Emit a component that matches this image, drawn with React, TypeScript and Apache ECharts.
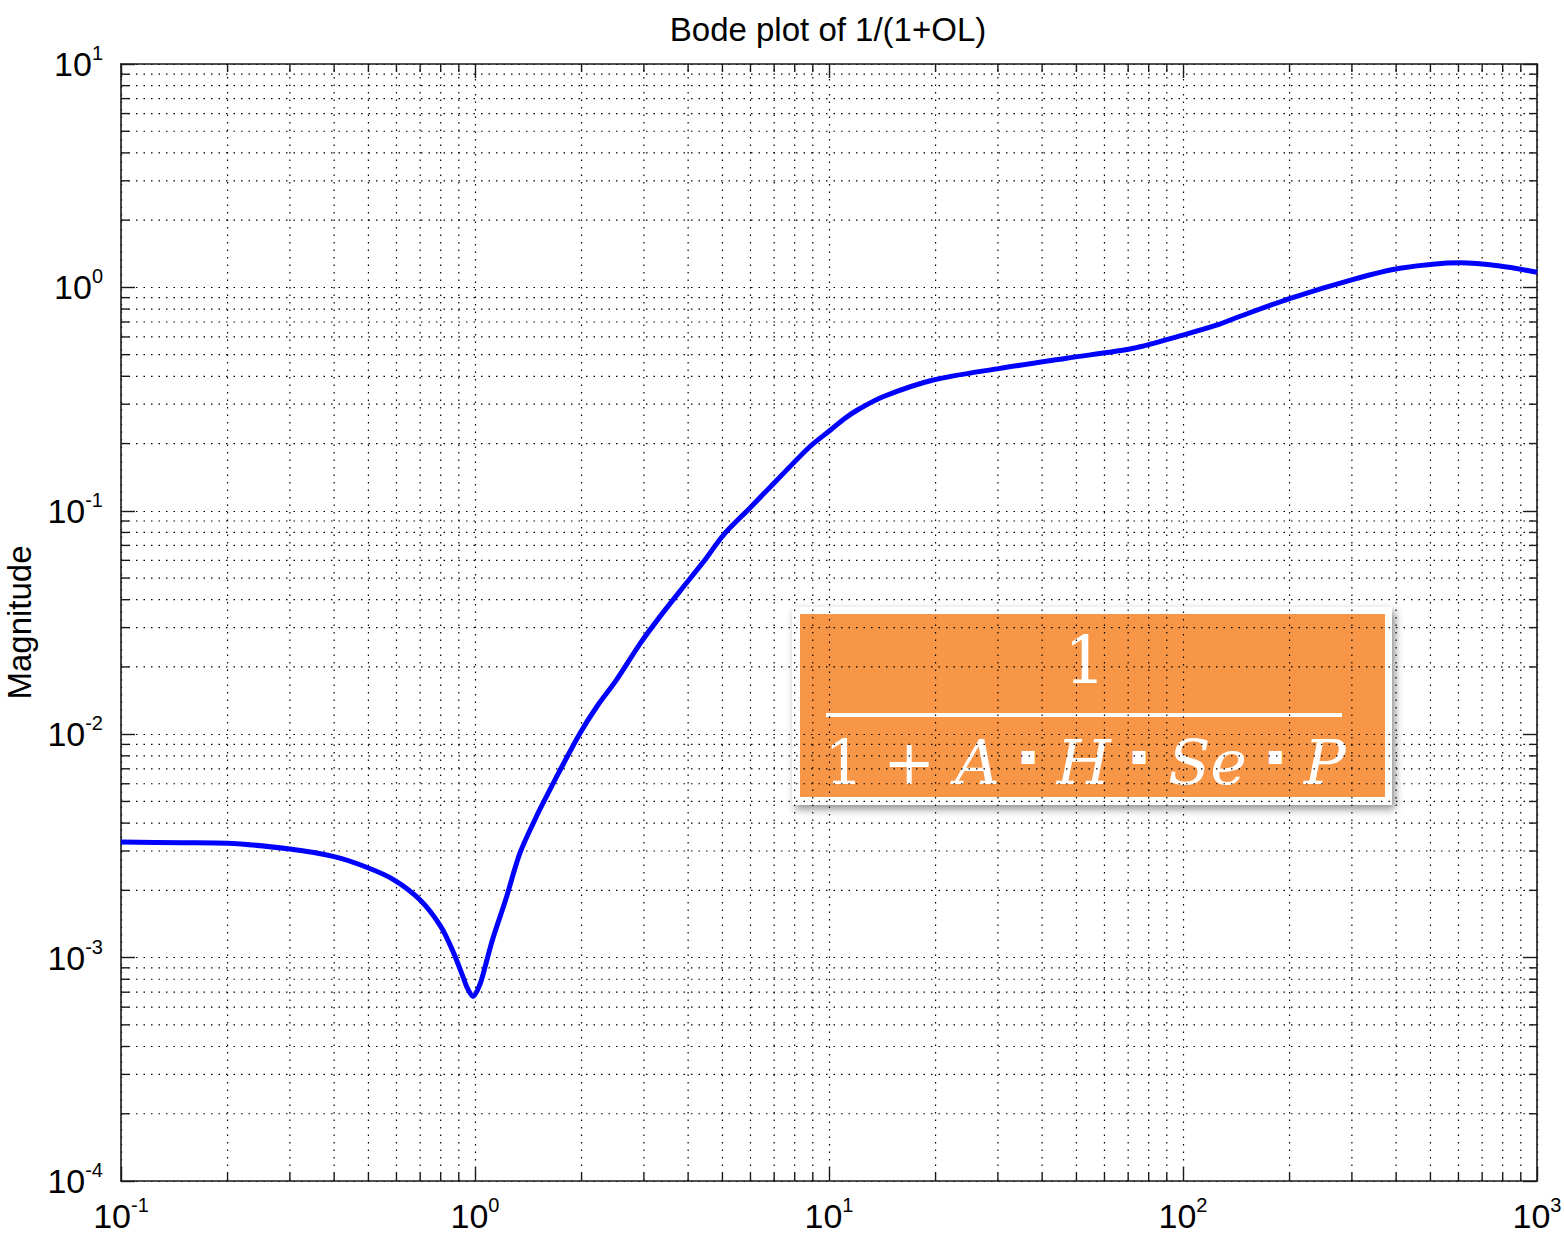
import React, { useEffect, useRef } from "react";
import * as echarts from "echarts";

// ---- data ----
const freq = [
  0.1, 0.15, 0.2, 0.3, 0.4, 0.49, 0.59, 0.7, 0.8, 0.87, 0.925, 0.948, 0.987, 1.033, 1.07,
  1.12, 1.22, 1.34, 1.49, 1.6, 1.72, 1.98, 2.21, 2.51, 2.93, 3.33, 3.88, 4.46, 5.03,
  5.98, 7.12, 8.84, 10.1, 11.0, 12.0, 14.2, 19.7, 30.4, 46.9, 72.4, 100, 125, 139,
  201, 303, 410, 606, 786, 1000,
];
const magnitude = [
  3.29e-3, 3.27e-3, 3.25e-3, 3.06e-3, 2.83e-3, 2.55e-3, 2.23e-3, 1.81e-3, 1.38e-3,
  1.05e-3, 8.2e-4, 7.4e-4, 6.7e-4, 7.6e-4, 9.2e-4, 1.2e-3, 1.81e-3, 2.94e-3, 4.27e-3,
  5.35e-3, 6.68e-3, 1.01e-2, 1.33e-2, 1.75e-2, 2.55e-2, 3.36e-2, 4.57e-2, 6.02e-2,
  7.79e-2, 0.103, 0.137, 0.194, 0.23, 0.257, 0.282, 0.324, 0.385, 0.434, 0.482, 0.534,
  0.612, 0.679, 0.724, 0.894, 1.087, 1.218, 1.29, 1.247, 1.169,
];

const xMin = 0.1;
const xMax = 1000;
const yMin = 1e-4;
const yMax = 10;
const xDecades = [0.1, 1, 10, 100];
const yDecades = [1e-4, 1e-3, 1e-2, 1e-1, 1];
const minorMultipliers = [2, 3, 4, 5, 6, 7, 8, 9];

const titleText = "Bode plot of 1/(1+OL)";
const yName = "Magnitude";

const xMinorTicks: number[] = [];
xDecades.forEach((d) => minorMultipliers.forEach((m) => xMinorTicks.push(d * m)));
const yMinorTicks: number[] = [];
yDecades.forEach((d) => minorMultipliers.forEach((m) => yMinorTicks.push(d * m)));

const FONT = "'Liberation Sans', Arial, sans-serif";
const MATH_FONT = "'DejaVu Serif', 'Liberation Serif', serif";
const MAJOR_LEN = 14;
const MINOR_LEN = 8;
const gridDash = [1.5, 6];

const supFormatter = (val: number) => {
  const e = Math.round(Math.log10(val));
  return `{b|10}{s|${e}}`;
};
const labelRich = {
  b: { fontSize: 34, fontFamily: FONT, color: "#000" },
  s: { fontSize: 20, fontFamily: FONT, color: "#000", padding: [0, 0, 22, 0] },
};

export default function App() {
  const ref = useRef<HTMLDivElement>(null);
  useEffect(() => {
    document.body.style.margin = "0";
    const chart = echarts.init(ref.current!, undefined, { renderer: "svg" });
    const axisLine = { show: true, onZero: false, lineStyle: { color: "#1a1a1a", width: 1.6 } };
    const splitLine = { show: true, lineStyle: { color: "#000", width: 1.2, type: gridDash } };
    const tickStyle = { stroke: "#1a1a1a", lineWidth: 1.4 };
    const dotStyle = { stroke: "#000", lineWidth: 1.2, lineDash: gridDash, fill: null };
    const majorTick = { show: true, inside: true, length: MAJOR_LEN, lineStyle: { color: "#1a1a1a", width: 1.4 } };

    chart.setOption({
      animation: false,
      backgroundColor: "#fff",
      grid: { left: 121, right: 27, top: 64, bottom: 55, containLabel: false, outerBoundsMode: "none" },
      xAxis: [
        {
          type: "log",
          logBase: 10,
          min: xMin,
          max: xMax,
          splitNumber: 4,
          position: "bottom",
          axisLine,
          axisTick: majorTick,
          axisLabel: { formatter: supFormatter, rich: labelRich, margin: 14 },
          splitLine,
        },
        {
          type: "log",
          logBase: 10,
          min: xMin,
          max: xMax,
          splitNumber: 4,
          position: "top",
          axisLine,
          axisTick: majorTick,
          axisLabel: { show: false },
          splitLine: { show: false },
        },
      ],
      yAxis: [
        {
          type: "log",
          logBase: 10,
          min: yMin,
          max: yMax,
          splitNumber: 5,
          position: "left",
          name: yName,
          nameLocation: "middle",
          nameGap: 77,
          nameRotate: 90,
          nameTextStyle: { fontSize: 33, fontFamily: FONT, color: "#000" },
          axisLine,
          axisTick: majorTick,
          axisLabel: { formatter: supFormatter, rich: labelRich, margin: 18 },
          splitLine,
        },
        {
          type: "log",
          logBase: 10,
          min: yMin,
          max: yMax,
          splitNumber: 5,
          position: "right",
          axisLine,
          axisTick: majorTick,
          axisLabel: { show: false },
          splitLine: { show: false },
        },
      ],
      series: [
        {
          type: "custom",
          coordinateSystem: "cartesian2d",
          xAxisIndex: 0,
          yAxisIndex: 0,
          silent: true,
          z: 1,
          data: xMinorTicks.map((v) => [v, 1]),
          renderItem: (_p: any, api: any) => {
            const v = api.value(0);
            const b = api.coord([v, yMin]);
            const t = api.coord([v, yMax]);
            return {
              type: "group",
              children: [
                { type: "line", shape: { x1: b[0], y1: b[1], x2: t[0], y2: t[1] }, style: dotStyle },
                { type: "line", shape: { x1: b[0], y1: b[1], x2: b[0], y2: b[1] - MINOR_LEN }, style: tickStyle },
                { type: "line", shape: { x1: t[0], y1: t[1], x2: t[0], y2: t[1] + MINOR_LEN }, style: tickStyle },
              ],
            };
          },
        },
        {
          type: "custom",
          coordinateSystem: "cartesian2d",
          xAxisIndex: 0,
          yAxisIndex: 0,
          silent: true,
          z: 1,
          data: yMinorTicks.map((v) => [1, v]),
          renderItem: (_p: any, api: any) => {
            const v = api.value(1);
            const l = api.coord([xMin, v]);
            const r = api.coord([xMax, v]);
            return {
              type: "group",
              children: [
                { type: "line", shape: { x1: l[0], y1: l[1], x2: r[0], y2: r[1] }, style: dotStyle },
                { type: "line", shape: { x1: l[0], y1: l[1], x2: l[0] + MINOR_LEN, y2: l[1] }, style: tickStyle },
                { type: "line", shape: { x1: r[0], y1: r[1], x2: r[0] - MINOR_LEN, y2: r[1] }, style: tickStyle },
              ],
            };
          },
        },
        {
          type: "line",
          name: "1/(1+OL)",
          xAxisIndex: 0,
          yAxisIndex: 0,
          z: 3,
          showSymbol: false,
          smooth: 0.3,
          lineStyle: { color: "#0000ff", width: 5 },
          data: freq.map((f, i) => [f, magnitude[i]]),
        },
      ],
      graphic: [
        {
          type: "text",
          x: 828,
          y: 29,
          style: {
            text: titleText,
            fontSize: 33,
            fontFamily: FONT,
            fill: "#000",
            textAlign: "center",
            textVerticalAlign: "middle",
          },
        },
        {
          type: "group",
          z: 100,
          children: [
            {
              type: "rect",
              shape: { x: 792, y: 607, width: 600, height: 198 },
              style: {
                fill: "#fff",
                shadowBlur: 8,
                shadowOffsetX: 3,
                shadowOffsetY: 4,
                shadowColor: "rgba(0,0,0,0.45)",
              },
            },
            {
              type: "rect",
              shape: { x: 800, y: 614, width: 585, height: 183 },
              style: { fill: "#F79646" },
            },
            {
              type: "text",
              x: 1085,
              y: 660,
              style: {
                text: "1",
                fontSize: 66,
                fontFamily: MATH_FONT,
                fill: "#fff",
                textAlign: "center",
                textVerticalAlign: "middle",
              },
            },
            {
              type: "rect",
              shape: { x: 826, y: 713, width: 516, height: 4 },
              style: { fill: "#fff" },
            },
            {
              type: "text",
              x: 1085,
              y: 762,
              style: {
                text: "{n|1 + }{i|A}{n| }{d|▪}{n| }{i|H}{n| }{d|▪}{n| }{i|Se}{n| }{d|▪}{n| }{i|P}",
                textAlign: "center",
                textVerticalAlign: "middle",
                rich: {
                  n: { fontSize: 62, fontFamily: MATH_FONT, fill: "#fff" },
                  d: { fontSize: 26, fontFamily: MATH_FONT, fill: "#fff", padding: [0, 0, 14, 0] },
                  i: {
                    fontSize: 62,
                    fontStyle: "italic",
                    fontFamily: MATH_FONT,
                    fill: "#fff",
                  },
                },
              },
            },
          ],
        },
      ],
    });
    return () => chart.dispose();
  }, []);
  return <div ref={ref} style={{ width: 1564, height: 1236 }} />;
}
